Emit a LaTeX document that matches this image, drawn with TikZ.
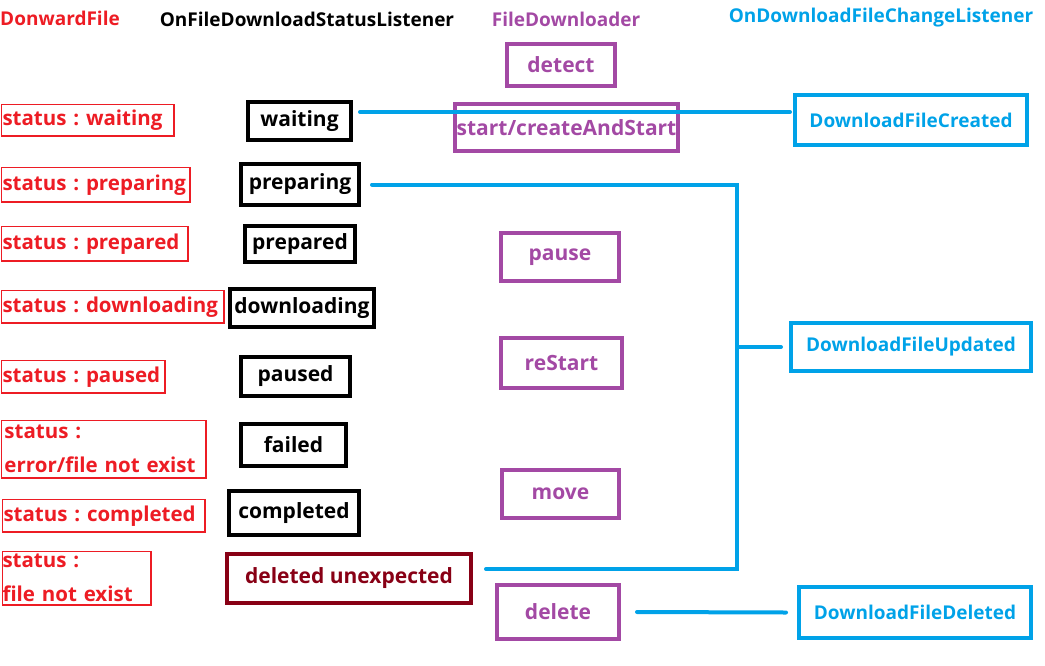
\documentclass[tikz,border=0pt]{standalone}
\usepackage{fontspec}
\setmainfont{Open Sans}
\definecolor{fred}{HTML}{ED1C24}
\definecolor{fpurple}{HTML}{A349A4}
\definecolor{fblue}{HTML}{00A2E8}
\definecolor{fdark}{HTML}{880015}
\frenchspacing
\hyphenpenalty=10000
\begin{document}
\begin{tikzpicture}[x=1pt, y=-1pt, font=\bfseries\fontsize{19}{24}\selectfont,
        redbox/.style={draw=fred, text=fred, line width=1.5pt, anchor=north west, align=left, inner xsep=1pt, inner ysep=0pt, font=\bfseries\fontsize{20.5}{24}\selectfont},
        blackbox/.style={draw=black, line width=4pt, inner sep=0pt, font=\bfseries\fontsize{21}{24}\selectfont},
        purplebox/.style={draw=fpurple, text=fpurple, line width=4pt, inner sep=0pt, font=\bfseries\fontsize{21}{24}\selectfont},
        bluebox/.style={draw=fblue, text=fblue, line width=4pt, inner sep=0pt},
        link/.style={draw=fblue, line width=4pt, line cap=round}]
        \useasboundingbox (0,0) rectangle (1045,665);
        % column titles
        \node[text=fred] (hFile) at (60,18) {DonwardFile};
        \node (hStatus) at (307,19) {OnFileDownloadStatusListener};
        \node[text=fpurple] (hLoader) at (566,19) {FileDownloader};
        \node[text=fblue] (hChange) at (881,18) {OnDownloadFileChangeListener};
        % DonwardFile status
        \node[redbox, text width=170.5pt, minimum height=31.5pt] (sWait) at (0.75,103.75) {status : waiting};
        \node[redbox, text width=186.5pt, minimum height=34.5pt] (sPrep) at (0.75,166.75) {status : preparing};
        \node[redbox, text width=184.5pt, minimum height=34.5pt] (sPrepd) at (0.75,225.75) {status : prepared};
        \node[redbox, text width=220.5pt, minimum height=32.5pt] (sLoad) at (0.75,289.75) {status : downloading};
        \node[redbox, text width=161.5pt, minimum height=32.5pt] (sPause) at (0.75,359.75) {status : paused};
        \node[redbox, inner xsep=3pt, text width=198.5pt, minimum height=57.5pt] (sErr) at (0.75,419.75) {status :\\[10pt]error/file not exist};
        \node[redbox, text width=200.5pt, minimum height=32.5pt] (sDone) at (1.75,498.75) {status : completed};
        \node[redbox, inner xsep=0pt, text width=148.5pt, minimum height=53.5pt] (sGone) at (1.75,550.75) {status :\\[10pt]file not exist};
        % listener callbacks
        \node[blackbox, minimum width=103pt, minimum height=38pt] (waiting) at (299.5,121) {waiting};
        \node[blackbox, minimum width=118pt, minimum height=41pt] (preparing) at (300,184.5) {preparing};
        \node[blackbox, minimum width=110pt, minimum height=36pt] (prepared) at (300,244) {prepared};
        \node[blackbox, minimum width=144pt, minimum height=38pt] (downloading) at (302,308) {downloading};
        \node[blackbox, minimum width=109pt, minimum height=39pt] (paused) at (295.5,376.5) {paused};
        \node[blackbox, minimum width=105pt, minimum height=42pt] (failed) at (293.5,445) {failed};
        \node[blackbox, minimum width=130pt, minimum height=44pt] (completed) at (294,513) {completed};
        \node[blackbox, draw=fdark, text=fdark, minimum width=244pt, minimum height=49pt] (unexp) at (349,578.5) {deleted unexpected};
        % FileDownloader methods
        \node[purplebox, minimum width=108pt, minimum height=42pt] (detect) at (561,65) {detect};
        \node[purplebox, minimum width=223pt, minimum height=47pt] (start) at (566.5,127.5) {start/createAndStart};
        \node[purplebox, minimum width=118pt, minimum height=48pt] (pause) at (560,257) {pause};
        \node[purplebox, minimum width=121pt, minimum height=50pt] (restart) at (561.5,363) {reStart};
        \node[purplebox, minimum width=117pt, minimum height=48pt] (move) at (560.5,494) {move};
        \node[purplebox, minimum width=122pt, minimum height=54pt] (delete) at (558,612) {delete};
        % change listener
        \node[bluebox, minimum width=232pt, minimum height=50pt] (created) at (911,120) {DownloadFileCreated};
        \node[bluebox, minimum width=240pt, minimum height=48pt] (updated) at (911,347) {DownloadFileUpdated};
        \node[bluebox, minimum width=232pt, minimum height=51pt] (gone) at (915,612.5) {DownloadFileDeleted};
        \coordinate (bus) at (737,569);
        \draw[link] ([xshift=7pt,yshift=9pt]waiting.east) -- ([xshift=-3pt,yshift=8pt]created.west);
        \draw[link] ([xshift=11pt]preparing.east) -| (bus) -- ([xshift=13pt]unexp.east |- bus);
        \draw[link] (updated.west -| bus) -- ([xshift=-8pt]updated.west);
        \draw[link] ([xshift=16pt]delete.east) -- ([xshift=-11pt]gone.west);
\end{tikzpicture}
\end{document}
